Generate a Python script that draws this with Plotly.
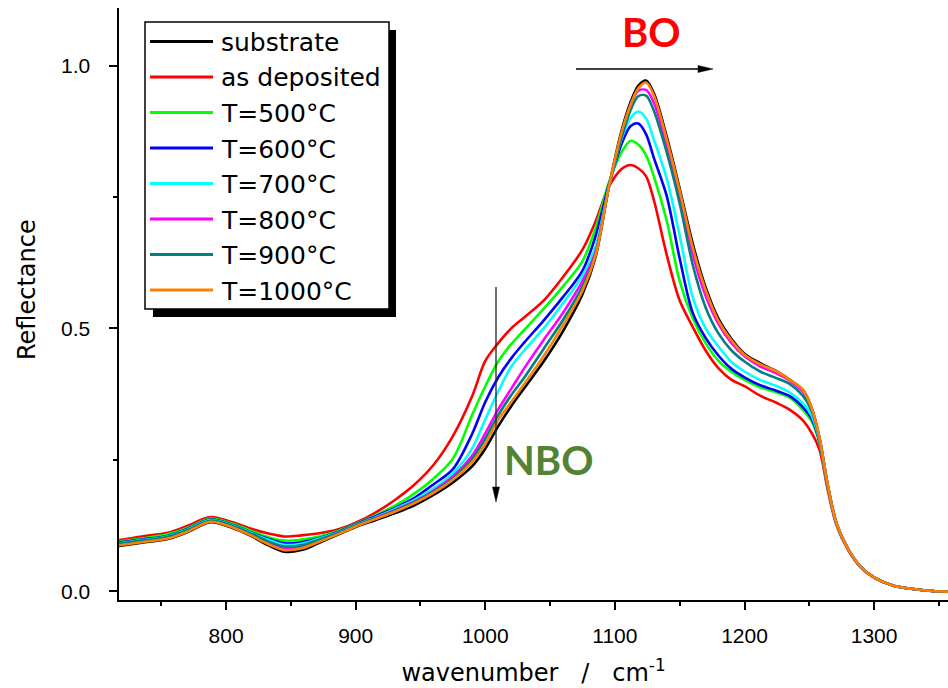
import plotly.graph_objects as go

wavenumber = [717, 735, 755, 770, 788, 805, 820, 832, 845, 858, 872, 886, 900, 915, 930, 945, 960, 975, 990, 1000,
              1010, 1020, 1030, 1045, 1060, 1075, 1085, 1095, 1105, 1112, 1118, 1124, 1130, 1140, 1150, 1160, 1170,
              1180, 1190, 1200, 1212, 1225, 1235, 1245, 1252, 1258, 1264, 1271, 1280, 1290, 1300, 1315, 1330, 1345, 1357]

substrate = [0.086, 0.092, 0.099, 0.112, 0.131, 0.120, 0.104, 0.088, 0.075, 0.078, 0.092, 0.107, 0.122, 0.135, 0.148,
             0.163, 0.183, 0.207, 0.238, 0.271, 0.314, 0.352, 0.386, 0.437, 0.495, 0.565, 0.635, 0.765, 0.875, 0.930,
             0.962, 0.972, 0.948, 0.865, 0.766, 0.662, 0.578, 0.518, 0.480, 0.452, 0.434, 0.418, 0.402, 0.383, 0.347,
             0.290, 0.205, 0.129, 0.080, 0.045, 0.026, 0.010, 0.004, 0.000, -0.001]
as_deposited = [0.097, 0.104, 0.111, 0.124, 0.141, 0.131, 0.118, 0.110, 0.104, 0.106, 0.110, 0.117, 0.130, 0.149, 0.173,
                0.202, 0.240, 0.295, 0.372, 0.438, 0.472, 0.500, 0.521, 0.553, 0.598, 0.650, 0.703, 0.768, 0.803, 0.811,
                0.805, 0.790, 0.745, 0.640, 0.553, 0.503, 0.458, 0.424, 0.402, 0.390, 0.372, 0.358, 0.345, 0.325, 0.300,
                0.268, 0.195, 0.125, 0.078, 0.044, 0.025, 0.010, 0.004, 0.000, -0.001]
t500 = [0.094, 0.100, 0.108, 0.120, 0.138, 0.128, 0.114, 0.103, 0.096, 0.098, 0.104, 0.114, 0.128, 0.144, 0.162,
        0.185, 0.214, 0.252, 0.336, 0.390, 0.437, 0.470, 0.497, 0.537, 0.580, 0.628, 0.690, 0.775, 0.835, 0.857,
        0.850, 0.830, 0.790, 0.705, 0.590, 0.520, 0.472, 0.438, 0.417, 0.402, 0.388, 0.378, 0.368, 0.345, 0.322,
        0.280, 0.200, 0.127, 0.079, 0.045, 0.026, 0.010, 0.004, 0.000, -0.001]
t600 = [0.092, 0.098, 0.105, 0.118, 0.136, 0.126, 0.111, 0.100, 0.091, 0.093, 0.101, 0.112, 0.127, 0.142, 0.158,
        0.177, 0.203, 0.232, 0.300, 0.360, 0.407, 0.443, 0.473, 0.515, 0.560, 0.610, 0.675, 0.770, 0.850, 0.885,
        0.890, 0.870, 0.825, 0.752, 0.633, 0.530, 0.482, 0.448, 0.423, 0.407, 0.392, 0.381, 0.371, 0.350, 0.327,
        0.283, 0.202, 0.128, 0.079, 0.045, 0.026, 0.010, 0.004, 0.000, -0.001]
t700 = [0.091, 0.097, 0.104, 0.117, 0.135, 0.125, 0.110, 0.098, 0.088, 0.090, 0.100, 0.111, 0.126, 0.140, 0.156,
        0.173, 0.195, 0.224, 0.272, 0.327, 0.380, 0.427, 0.458, 0.500, 0.548, 0.600, 0.655, 0.765, 0.860, 0.900,
        0.913, 0.900, 0.860, 0.785, 0.677, 0.560, 0.500, 0.465, 0.436, 0.418, 0.402, 0.390, 0.378, 0.358, 0.333,
        0.285, 0.203, 0.128, 0.080, 0.045, 0.026, 0.010, 0.004, 0.000, -0.001]
t800 = [0.089, 0.095, 0.102, 0.115, 0.133, 0.123, 0.107, 0.093, 0.082, 0.084, 0.096, 0.109, 0.124, 0.139, 0.154,
        0.170, 0.191, 0.218, 0.258, 0.300, 0.346, 0.385, 0.424, 0.478, 0.530, 0.590, 0.645, 0.765, 0.868, 0.925,
        0.952, 0.954, 0.930, 0.848, 0.750, 0.642, 0.562, 0.508, 0.472, 0.447, 0.428, 0.414, 0.400, 0.380, 0.345,
        0.289, 0.204, 0.129, 0.080, 0.045, 0.026, 0.010, 0.004, 0.000, -0.001]
t900 = [0.090, 0.096, 0.103, 0.116, 0.134, 0.124, 0.109, 0.095, 0.085, 0.087, 0.098, 0.110, 0.125, 0.138, 0.153,
        0.169, 0.189, 0.215, 0.252, 0.290, 0.335, 0.373, 0.406, 0.461, 0.516, 0.580, 0.640, 0.765, 0.862, 0.915,
        0.942, 0.943, 0.915, 0.835, 0.738, 0.622, 0.540, 0.490, 0.458, 0.437, 0.418, 0.405, 0.394, 0.372, 0.342,
        0.288, 0.204, 0.129, 0.080, 0.045, 0.026, 0.010, 0.004, 0.000, -0.001]
t1000 = [0.087, 0.093, 0.100, 0.113, 0.132, 0.121, 0.105, 0.090, 0.078, 0.081, 0.094, 0.108, 0.123, 0.137, 0.151,
         0.167, 0.187, 0.212, 0.246, 0.280, 0.326, 0.360, 0.394, 0.447, 0.506, 0.572, 0.638, 0.765, 0.872, 0.925,
         0.957, 0.968, 0.944, 0.860, 0.762, 0.655, 0.573, 0.514, 0.477, 0.450, 0.432, 0.418, 0.402, 0.383, 0.347,
         0.290, 0.205, 0.129, 0.080, 0.045, 0.026, 0.010, 0.004, 0.000, -0.001]

series_names = ["substrate", "as deposited", "T=500°C", "T=600°C", "T=700°C", "T=800°C", "T=900°C", "T=1000°C"]
series_values = [substrate, as_deposited, t500, t600, t700, t800, t900, t1000]
series_colors = ["#000000", "#FF0000", "#00FF00", "#0000FF", "#00FFFF", "#FF00FF", "#008080", "#FF8000"]

y_tick_vals = [0.0, 0.5, 1.0]
y_tick_text = ["0.0", "0.5", "1.0"]

FONT = "Liberation Sans, Arial, sans-serif"
WIDE_FONT = "DejaVu Sans, Liberation Sans, sans-serif"
LABEL_FONT = "Lato, Open Sans, sans-serif"

fig = go.Figure()
for name, vals, col in zip(series_names, series_values, series_colors):
    fig.add_trace(go.Scatter(
        x=wavenumber, y=vals, name=name, mode="lines",
        line=dict(color=col, width=2.6, shape="spline", smoothing=0.9),
        showlegend=False, hoverinfo="skip"))

# plot area geometry (px) -> paper coordinate helpers
L, R, T, B = 119, 948, 8, 600
def px(xp):
    return (xp - L) / (R - L)
def py(yp):
    return (B - yp) / (B - T)

fig.update_layout(
    width=948, height=688,
    margin=dict(l=L, r=948 - R, t=T, b=688 - B),
    plot_bgcolor="white", paper_bgcolor="white",
    font=dict(family=FONT, color="black"),
    showlegend=False,
    xaxis=dict(range=[717.4, 1357], showgrid=False, zeroline=False,
               showline=True, linecolor="black", linewidth=2,
               ticks="outside", ticklen=8, tickwidth=2, tickcolor="black",
               tick0=800, dtick=100, ticklabelstandoff=8,
               minor=dict(ticks="outside", ticklen=4, tickwidth=2, tickcolor="black", dtick=50, tick0=750),
               tickfont=dict(family=FONT, size=21),
               title=dict(text="wavenumber\u00a0\u00a0 /\u00a0\u00a0 cm<sup>-1</sup>",
                          font=dict(family=WIDE_FONT, size=24), standoff=18)),
    yaxis=dict(range=[-0.017, 1.11], showgrid=False, zeroline=False,
               showline=True, linecolor="black", linewidth=2,
               ticks="outside", ticklen=8, tickwidth=2, tickcolor="black",
               tickvals=y_tick_vals, showticklabels=False,
               minor=dict(ticks="outside", ticklen=4, tickwidth=2, tickcolor="black",
                          tickvals=[0.25, 0.75])),
)

# y tick labels (placed a little further from the axis, as in the original)
for v, t in zip(y_tick_vals, y_tick_text):
    fig.add_annotation(xref="paper", yref="y", x=px(92), y=v, text=t, showarrow=False,
                       xanchor="right", yanchor="middle",
                       font=dict(family=FONT, size=21, color="black"))

# y-axis title
fig.add_annotation(xref="paper", yref="paper", x=px(27), y=py(290), textangle=-90,
                   text="Reflectance", showarrow=False, xanchor="center", yanchor="middle",
                   font=dict(family=WIDE_FONT, size=24, color="black"))

# ---- legend box drawn by hand (Origin style with drop shadow) ----
fig.add_shape(type="rect", xref="paper", yref="paper",
              x0=px(153), x1=px(396), y0=py(317), y1=py(30),
              fillcolor="black", line=dict(width=0), layer="above")
fig.add_shape(type="rect", xref="paper", yref="paper",
              x0=px(145), x1=px(389), y0=py(309), y1=py(22),
              fillcolor="white", line=dict(color="black", width=1.5), layer="above")
row0, row_step = 41.5, 35.5
for i, (name, col) in enumerate(zip(series_names, series_colors)):
    yc = row0 + i * row_step
    fig.add_shape(type="line", xref="paper", yref="paper",
                  x0=px(150), x1=px(213), y0=py(yc), y1=py(yc),
                  line=dict(color=col, width=3), layer="above")
    fig.add_annotation(xref="paper", yref="paper", x=px(219), y=py(yc + 1),
                       xanchor="left", yanchor="middle", text=name, showarrow=False,
                       font=dict(family=WIDE_FONT, size=25, color="black"))

# ---- arrows (line + triangular head) ----
fig.add_shape(type="line", xref="paper", yref="paper",
              x0=px(576), x1=px(701), y0=py(69), y1=py(69),
              line=dict(color="black", width=1.3), layer="above")
fig.add_shape(type="path", xref="paper", yref="paper",
              path=f"M {px(713)},{py(69)} L {px(698)},{py(65.5)} L {px(698)},{py(72.5)} Z",
              fillcolor="black", line=dict(color="black", width=0.5), layer="above")
fig.add_shape(type="line", xref="paper", yref="paper",
              x0=px(496), x1=px(496), y0=py(287), y1=py(490),
              line=dict(color="#222222", width=1.3), layer="above")
fig.add_shape(type="path", xref="paper", yref="paper",
              path=f"M {px(496)},{py(502)} L {px(492.5)},{py(487)} L {px(499.5)},{py(487)} Z",
              fillcolor="black", line=dict(color="black", width=0.5), layer="above")

# ---- labels ----
fig.add_annotation(x=1127.9, y=1.065, xref="x", yref="y", text="<b>BO</b>", showarrow=False,
                   font=dict(family=LABEL_FONT, size=40, color="#FF0000"))
fig.add_annotation(x=1048.4, y=0.2495, xref="x", yref="y", text="<b>NBO</b>", showarrow=False,
                   font=dict(family=LABEL_FONT, size=40, color="#548235"))

fig.write_html("out.html")
